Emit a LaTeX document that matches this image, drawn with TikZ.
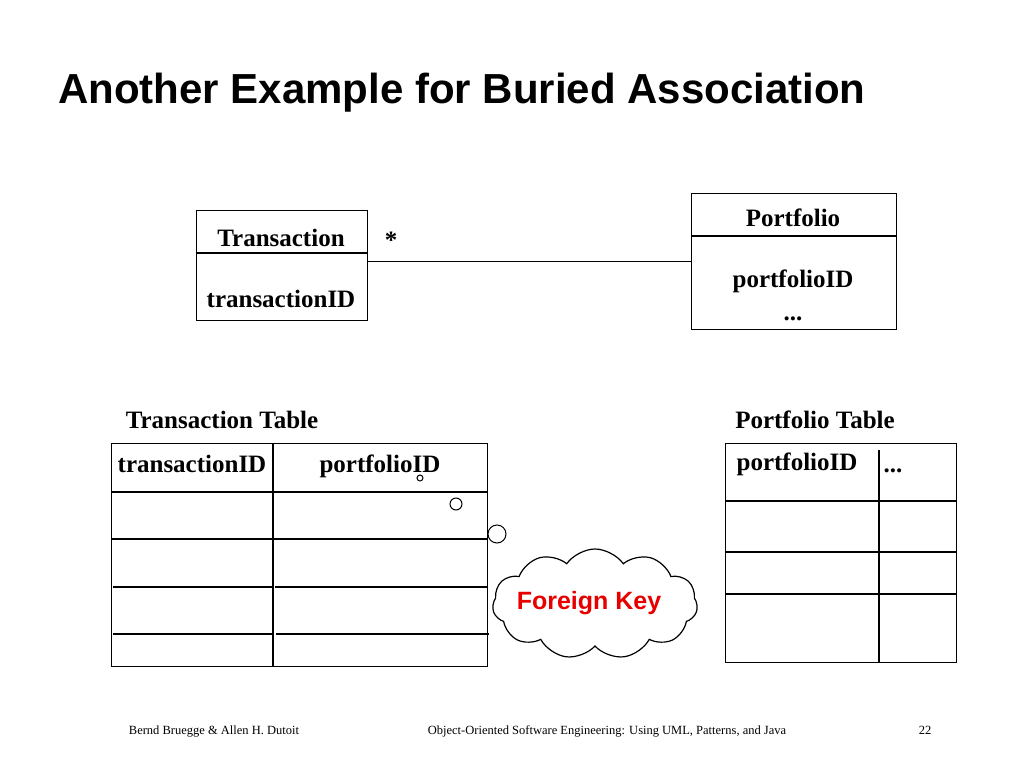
\documentclass[tikz,border=0pt]{standalone}
\usepackage{fontspec}
\setmainfont{Liberation Serif}
\newfontfamily\sansf{Liberation Sans}
\usetikzlibrary{shapes.symbols}
\definecolor{fkred}{RGB}{230,0,0}
\begin{document}
\begin{tikzpicture}[x=1pt,y=-1pt,
  lbl/.style={font=\bfseries\fontsize{25}{30}\selectfont, inner sep=0pt, anchor=base},
  boxline/.style={line width=1.2pt},
  frame/.style={draw, line width=1.2pt, inner sep=0pt, anchor=north west},
  bubble/.style={draw, circle, line width=1pt, inner sep=0pt},
  foot/.style={font=\fontsize{12.5}{14}\selectfont, inner sep=0pt, anchor=base}]
\useasboundingbox[fill=white] (0,0) rectangle (1024,768);

% title
\node[font=\sansf\bfseries\fontsize{42}{48}\selectfont, inner sep=0pt, anchor=base west] (title) at (58,103) {Another Example for Buried Association};

% UML classes
\node[frame, minimum width=171pt, minimum height=110pt] (tbox) at (196,210) {};
\draw[boxline] (196,253) -- (367,253);
\node[lbl] (tname) at (281,246) {Transaction};
\node[lbl] (tattr) at (281,307) {transactionID};

\node[frame, minimum width=205pt, minimum height=136pt] (pbox) at (691,193) {};
\draw[boxline] (691,236) -- (896,236);
\node[lbl] (pname) at (793,226) {Portfolio};
\node[lbl] (pattr) at (793,287) {portfolioID};
\node[lbl] (pdots) at (793,320) {...};

\draw[line width=1pt] (tbox.east |- pbox.west) -- (pbox.west);
\node[lbl] (mult) at (391,248) {*};

% Transaction table
\node[lbl] (ttl) at (222,428) {Transaction Table};
\node[frame, minimum width=376pt, minimum height=223pt] (ttab) at (111,443) {};
\draw[boxline] (273,443) -- (273,666);
\draw[boxline] (111,492) -- (487,492);
\draw[boxline] (111,539) -- (487,539);
\draw[boxline] (113,587) -- (272,587);
\draw[boxline] (275,587) -- (488,587);
\draw[boxline] (113,634) -- (272,634);
\draw[boxline] (276,634) -- (489,634);
\node[lbl] (th1) at (192,472) {transactionID};
\node[lbl] (th2) at (380,472) {portfolioID};

% Portfolio table
\node[lbl] (ptl) at (815,428) {Portfolio Table};
\node[frame, minimum width=231pt, minimum height=219pt] (ptab) at (725,443) {};
\draw[boxline] (879,450) -- (879,662);
\draw[boxline] (725,501) -- (956,501);
\draw[boxline] (725,552) -- (956,552);
\draw[boxline] (725,594) -- (956,594);
\node[lbl] (ph1) at (797,470) {portfolioID};
\node[lbl] (ph2) at (893,472) {...};

% thought bubbles and cloud
\node[bubble, minimum size=6pt] (b1) at (420,478) {};
\node[bubble, minimum size=12pt] (b2) at (456,504) {};
\node[bubble, minimum size=18pt] (b3) at (497,534) {};
\node[cloud, draw, line width=1.2pt, cloud puffs=11, cloud puff arc=110, aspect=1.9,
      minimum width=205pt, minimum height=110pt, inner sep=0pt] (fk) at (595,604) {};
\node[font=\sansf\bfseries\fontsize{25}{30}\selectfont, text=fkred, inner sep=0pt] (fkt) at (589,603) {Foreign Key};

% footer
\node[foot] (f1) at (214,734) {Bernd Bruegge \& Allen H. Dutoit};
\node[foot] (f2) at (607,734) {Object-Oriented Software Engineering: Using UML, Patterns, and Java};
\node[foot] (f3) at (925,734) {22};
\end{tikzpicture}
\end{document}
